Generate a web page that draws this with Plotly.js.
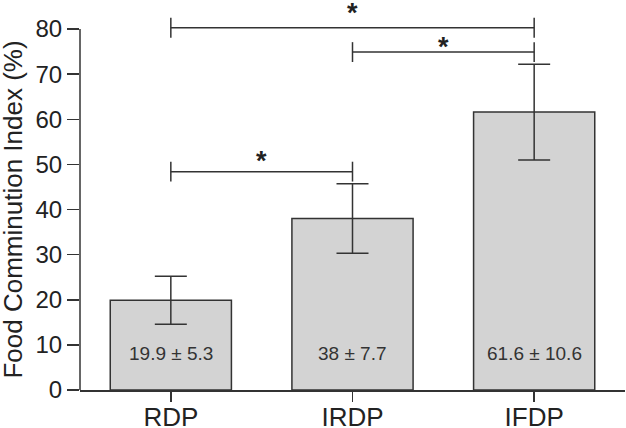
<!DOCTYPE html>
<html>
<head>
<meta charset="utf-8">
<script src="https://cdn.plot.ly/plotly-3.0.1.min.js"></script>
<style>html,body{margin:0;padding:0;background:#fff;}#chart{width:626px;height:428px;}</style>
</head>
<body>
<div id="chart"></div>
<script>
const categories = ["RDP", "IRDP", "IFDP"];
const means = [19.9, 38, 61.6];
const sds = [5.3, 7.7, 10.6];
const barLabels = ["19.9 ± 5.3", "38 ± 7.7", "61.6 ± 10.6"];
const yTicks = [0, 10, 20, 30, 40, 50, 60, 70, 80];
const yTitle = "Food Comminution Index (%)";

// significance brackets
const bracketFrom = ["RDP", "IRDP", "RDP"];
const bracketTo = ["IFDP", "IFDP", "IRDP"];
const bracketHeight = [80.3, 74.9, 48.4];
const starHeight = [84.7, 77.1, 51.9];
const bracketLabel = ["*", "*", "*"];

const ink = "#333333";
const tickHalf = 2.2;
const labelY = 8;
const fam = "Liberation Sans, Arial, sans-serif";

const traces = [{
  type: "bar",
  x: categories,
  y: means,
  width: 0.667,
  marker: {color: "#d3d3d3", line: {color: ink, width: 1.5}},
  error_y: {type: "data", array: sds, visible: true, color: ink, thickness: 1.5, width: 16},
  hoverinfo: "skip",
  showlegend: false
}];

for (let i = 0; i < bracketFrom.length; i++) {
  const a = bracketFrom[i], b = bracketTo[i], h = bracketHeight[i];
  traces.push({
    type: "scatter", mode: "lines",
    x: [a, a, null, a, b, null, b, b],
    y: [h - tickHalf, h + tickHalf, null, h, h, null, h - tickHalf, h + tickHalf],
    line: {color: ink, width: 1.5},
    cliponaxis: false, showlegend: false, hoverinfo: "skip"
  });
}

const annotations = [];
const idx = {};
categories.forEach((c, i) => idx[c] = i);
for (let i = 0; i < bracketFrom.length; i++) {
  annotations.push({
    x: (idx[bracketFrom[i]] + idx[bracketTo[i]]) / 2,
    y: starHeight[i],
    xref: "x", yref: "y",
    text: "<b>" + bracketLabel[i] + "</b>",
    showarrow: false,
    yanchor: "middle",
    yshift: -5,
    font: {family: fam, size: 27, color: "#222"}
  });
}
categories.forEach((c, i) => {
  annotations.push({
    x: c, y: labelY, xref: "x", yref: "y",
    text: barLabels[i], showarrow: false,
    font: {family: fam, size: 19, color: ink}
  });
});
annotations.push({
  x: 0, xref: "paper", xshift: -67, xanchor: "center",
  y: yTicks[yTicks.length - 1] / 2, yref: "y", yanchor: "middle",
  text: yTitle, textangle: -90, showarrow: false,
  font: {family: fam, size: 26, color: "#222"}
});

const layout = {
  width: 626, height: 428,
  margin: {l: 80, r: 1, t: 2, b: 38},
  paper_bgcolor: "#ffffff", plot_bgcolor: "#ffffff",
  font: {family: fam, color: "#222"},
  showlegend: false,
  xaxis: {
    type: "category",
    range: [-0.5, 2.5],
    showline: true, linecolor: ink, linewidth: 1.5,
    ticks: "outside", ticklen: 10, tickwidth: 1.5, tickcolor: ink,
    tickfont: {size: 26, color: "#222"},
    ticklabelstandoff: -7,
    showgrid: false, zeroline: false, fixedrange: true
  },
  yaxis: {
    range: [0, 86],
    tickvals: yTicks,
    showline: false,
    ticks: "outside", ticklen: 12, tickwidth: 1.5, tickcolor: ink,
    tickfont: {size: 24, color: "#222"},
    showgrid: false, zeroline: false, fixedrange: true
  },
  shapes: [{
    type: "line", xref: "paper", yref: "y",
    x0: 0, x1: 0, y0: 0, y1: yTicks[yTicks.length - 1],
    line: {color: ink, width: 1.5}, layer: "above"
  }],
  annotations: annotations
};

Plotly.newPlot("chart", traces, layout, {displayModeBar: false, staticPlot: true});
</script>
</body>
</html>
